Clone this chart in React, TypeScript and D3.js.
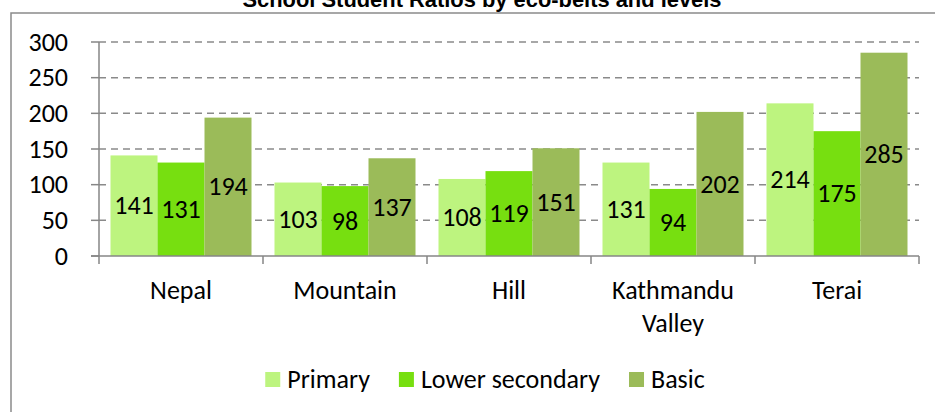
import React, { useEffect, useRef } from "react";
import * as d3 from "d3";

const categories = ["Nepal", "Mountain", "Hill", "Kathmandu\nValley", "Terai"];
const seriesNames = ["Primary", "Lower secondary", "Basic"];
const primary = [141, 103, 108, 131, 214];
const lowerSecondary = [131, 98, 119, 94, 175];
const basic = [194, 137, 151, 202, 285];
const yTicks = [0, 50, 100, 150, 200, 250, 300];
const colors = ["#bdf47f", "#77df10", "#9bbb59"];
const title = "School Student Ratios by eco-belts and levels";

const W = 935;
const H = 412;
const FONT = "Calibri, Carlito, 'Open Sans', sans-serif";
const FS = 26;

export default function App() {
  const ref = useRef<SVGSVGElement | null>(null);

  useEffect(() => {
    const svg = d3.select(ref.current);
    svg.selectAll("*").remove();

    const series = [primary, lowerSecondary, basic];
    const left = 99, right = 919, top = 42, bottom = 256;

    const x0 = d3.scaleBand<string>().domain(categories).range([left, right]).paddingInner(0).paddingOuter(0);
    const inner = x0.bandwidth() * (141 / 164);
    const x1 = d3
      .scaleBand<string>()
      .domain(seriesNames)
      .range([(x0.bandwidth() - inner) / 2, (x0.bandwidth() + inner) / 2])
      .padding(0);
    const y = d3.scaleLinear().domain([0, 300]).range([bottom, top]);

    // frame
    svg
      .append("rect")
      .attr("x", 11)
      .attr("y", 13)
      .attr("width", 960)
      .attr("height", 440)
      .attr("fill", "none")
      .attr("stroke", "#8a8a8a")
      .attr("stroke-width", 1.5);

    // title
    svg
      .append("text")
      .attr("x", 482)
      .attr("y", 7)
      .attr("text-anchor", "middle")
      .attr("font-family", "'Liberation Sans', Arial, sans-serif")
      .attr("font-weight", "bold")
      .attr("font-size", 22)
      .attr("textLength", 479)
      .attr("lengthAdjust", "spacingAndGlyphs")
      .attr("fill", "#000")
      .text(title);

    // gridlines
    svg
      .append("g")
      .selectAll("line")
      .data(yTicks.filter((t) => t > 0))
      .join("line")
      .attr("x1", left)
      .attr("x2", right)
      .attr("y1", (d) => y(d))
      .attr("y2", (d) => y(d))
      .attr("stroke", "#8a8a8a")
      .attr("stroke-width", 1.5)
      .attr("stroke-dasharray", "7,5");

    // bars
    const groups = svg
      .append("g")
      .selectAll("g")
      .data(categories)
      .join("g")
      .attr("transform", (d) => `translate(${x0(d)},0)`);

    groups
      .selectAll("rect")
      .data((_, i) => seriesNames.map((s, k) => ({ s, k, v: series[k][i] })))
      .join("rect")
      .attr("x", (d) => x1(d.s)!)
      .attr("width", x1.bandwidth())
      .attr("y", (d) => y(d.v))
      .attr("height", (d) => y(0) - y(d.v))
      .attr("fill", (d) => colors[d.k]);

    groups
      .selectAll("text")
      .data((_, i) => seriesNames.map((s, k) => ({ s, k, v: series[k][i] })))
      .join("text")
      .attr("x", (d) => x1(d.s)! + x1.bandwidth() / 2)
      .attr("y", (d) => (y(d.v) + y(0)) / 2)
      .attr("dy", "0.33em")
      .attr("text-anchor", "middle")
      .attr("font-family", FONT)
      .attr("font-size", FS)
      .attr("fill", "#000")
      .text((d) => d.v);

    // y axis
    const axisColor = "#868686";
    svg.append("line").attr("x1", left).attr("x2", left).attr("y1", top).attr("y2", bottom)
      .attr("stroke", axisColor).attr("stroke-width", 1.5);
    svg
      .append("g")
      .selectAll("line")
      .data(yTicks)
      .join("line")
      .attr("x1", left - 8)
      .attr("x2", left)
      .attr("y1", (d) => y(d))
      .attr("y2", (d) => y(d))
      .attr("stroke", axisColor)
      .attr("stroke-width", 1.5);
    svg
      .append("g")
      .selectAll("text")
      .data(yTicks)
      .join("text")
      .attr("x", 68)
      .attr("y", (d) => y(d))
      .attr("dy", "0.33em")
      .attr("text-anchor", "end")
      .attr("font-family", FONT)
      .attr("font-size", FS)
      .attr("fill", "#000")
      .text((d) => d);

    // x axis
    svg.append("line").attr("x1", left - 8).attr("x2", right).attr("y1", bottom).attr("y2", bottom)
      .attr("stroke", axisColor).attr("stroke-width", 1.5);
    const bounds = [...categories.map((c) => x0(c)!), right];
    svg
      .append("g")
      .selectAll("line")
      .data(bounds)
      .join("line")
      .attr("x1", (d) => d)
      .attr("x2", (d) => d)
      .attr("y1", bottom)
      .attr("y2", bottom + 8)
      .attr("stroke", axisColor)
      .attr("stroke-width", 1.5);

    const catText = svg
      .append("g")
      .selectAll("text")
      .data(categories)
      .join("text")
      .attr("x", (d) => x0(d)! + x0.bandwidth() / 2)
      .attr("y", 299)
      .attr("text-anchor", "middle")
      .attr("font-family", FONT)
      .attr("font-size", FS)
      .attr("fill", "#000");
    catText
      .selectAll("tspan")
      .data((d) => d.split("\n").map((t) => ({ t, c: d })))
      .join("tspan")
      .attr("x", (d) => x0(d.c)! + x0.bandwidth() / 2)
      .attr("dy", (_, i) => (i === 0 ? 0 : 33))
      .text((d) => d.t);

    // legend
    const leg = svg.append("g");
    const items = leg
      .selectAll("g")
      .data(seriesNames)
      .join("g");
    items
      .append("rect")
      .attr("width", 15)
      .attr("height", 15)
      .attr("y", 372)
      .attr("fill", (_, i) => colors[i]);
    items
      .append("text")
      .attr("x", 22)
      .attr("y", 388)
      .attr("font-family", FONT)
      .attr("font-size", FS)
      .attr("fill", "#000")
      .text((d) => d);
    const widths: number[] = [];
    items.each(function () {
      const t = d3.select(this).select("text").node() as SVGTextElement;
      widths.push(22 + t.getComputedTextLength());
    });
    const gap = 29;
    const total = d3.sum(widths) + gap * (widths.length - 1);
    let cx = 485 - total / 2;
    items.attr("transform", (_, i) => {
      const tx = cx;
      cx += widths[i] + gap;
      return `translate(${tx},0)`;
    });
  }, []);

  return (
    <div style={{ position: "absolute", left: 0, top: 0 }}>
      <svg ref={ref} width={W} height={H} style={{ display: "block", background: "#fff" }} />
    </div>
  );
}
